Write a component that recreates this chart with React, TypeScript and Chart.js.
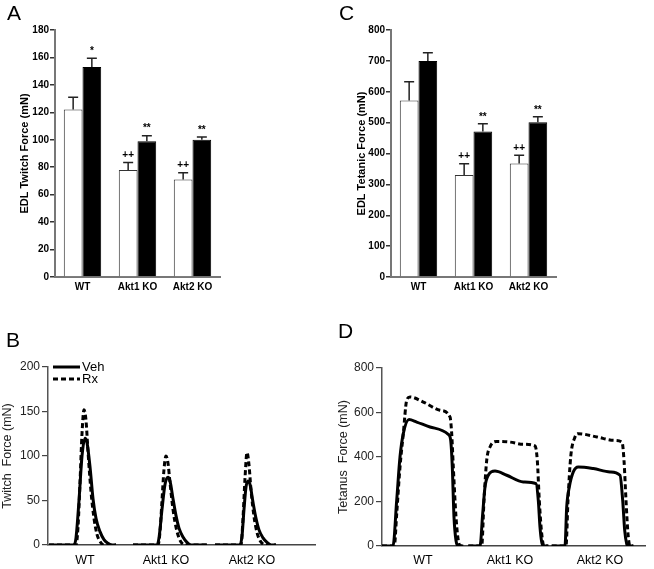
import React, { useEffect, useRef } from 'react';
import { Chart, registerables } from 'chart.js';

Chart.register(...registerables);

const FONT = '"Liberation Sans", Arial, Helvetica, sans-serif';

// ---------- Data ----------
const groups = ['WT', 'Akt1 KO', 'Akt2 KO'];

// Panel A: EDL twitch force (mN)
const twitchVeh = [122, 78, 71];
const twitchVehErr = [9, 5.5, 5];
const twitchRx = [153, 99, 100];
const twitchRxErr = [6.5, 4, 2];
const twitchVehMarks = ['', '++', '++'];
const twitchRxMarks = ['*', '**', '**'];

// Panel C: EDL tetanic force (mN)
const tetanicVeh = [572, 330, 368];
const tetanicVehErr = [60, 37, 26];
const tetanicRx = [700, 471, 501];
const tetanicRxErr = [26, 25, 18];
const tetanicVehMarks = ['', '++', '++'];
const tetanicRxMarks = ['', '**', '**'];

// Panel B: twitch traces [time, force]
const twitchWtVeh = [[1, 0], [26, 0], [28, 8], [31, 50], [34, 100], [37, 120], [39, 115], [42, 88], [45, 52], [48, 30], [52, 15], [56, 6], [60, 2], [64, 0], [68, 0]];
const twitchWtRx = [[1, 0], [28, 0], [30, 20], [32, 70], [34, 125], [36, 152], [38, 140], [40, 105], [43, 60], [46, 30], [49, 12], [52, 4], [56, 0], [68, 0]];
const twitchAkt1Veh = [[85, 0], [109, 0], [111, 8], [114, 40], [117, 68], [120, 76], [122, 72], [125, 52], [128, 33], [131, 19], [135, 9], [139, 3], [143, 0], [159, 0]];
const twitchAkt1Rx = [[85, 0], [110, 0], [112, 15], [114, 50], [116, 85], [118, 100], [120, 92], [122, 70], [125, 40], [128, 20], [131, 8], [134, 2], [138, 0], [159, 0]];
const twitchAkt2Veh = [[167, 0], [192, 0], [194, 10], [196, 40], [198, 65], [200, 72], [202, 68], [205, 48], [208, 30], [211, 17], [215, 8], [219, 3], [223, 0], [228, 0]];
const twitchAkt2Rx = [[167, 0], [193, 0], [195, 30], [197, 75], [199, 104], [201, 90], [203, 62], [206, 32], [209, 14], [212, 5], [215, 1], [219, 0], [228, 0]];
const twitchLabelTimes = [37, 118, 204];

// Panel D: tetanus traces [time, force]
const tetWtVeh = [[0, 0], [11, 0], [14.7, 205], [18, 400], [21.3, 505], [27, 568], [34.7, 557], [48, 535], [66.3, 502], [68.7, 475], [70.3, 355], [72, 130], [74, 25], [76.3, 0], [81.3, 0]];
const tetWtRx = [[0, 0], [12.3, 0], [14.7, 145], [18, 355], [21.3, 505], [24.7, 655], [28, 670], [41.3, 647], [58, 610], [68, 580], [69.7, 505], [71.3, 355], [74, 130], [76.3, 25], [78.7, 0], [81.3, 0]];
const tetAkt1Veh = [[86.3, 0], [98, 0], [100.7, 145], [103, 265], [106.3, 318], [113, 337], [124.7, 318], [141.3, 288], [154, 280], [156.3, 205], [158, 85], [159.7, 18], [161.3, 0], [166.3, 0]];
const tetAkt1Rx = [[86.3, 0], [99.7, 0], [102, 205], [104.7, 385], [108, 445], [114.7, 470], [128, 467], [141.3, 457], [153, 450], [155.3, 385], [157.3, 205], [159.7, 55], [162, 0], [166.3, 0]];
const tetAkt2Veh = [[169.7, 0], [183, 0], [184.7, 175], [187.3, 265], [191.3, 333], [196.3, 355], [211.3, 348], [228, 333], [238, 318], [240.7, 205], [242.7, 70], [244.7, 10], [246.3, 0], [251.3, 0]];
const tetAkt2Rx = [[169.7, 0], [184, 0], [186, 205], [188.7, 400], [193, 490], [196.3, 505], [215, 490], [231.7, 475], [240, 467], [242, 385], [244, 205], [246, 55], [248, 0], [251.3, 0]];
const tetanusLabelTimes = [41, 128, 218];

// ---------- Plugins ----------
const errorBarPlugin = {
  id: 'errorBars',
  afterDatasetsDraw(chart: any) {
    const ctx = chart.ctx;
    const yS = chart.scales.y;
    chart.data.datasets.forEach((ds: any, i: number) => {
      const meta = chart.getDatasetMeta(i);
      meta.data.forEach((bar: any, j: number) => {
        const top = yS.getPixelForValue(ds.data[j] + ds.errors[j]);
        ctx.save();
        ctx.strokeStyle = '#222';
        ctx.lineWidth = 1.5;
        ctx.beginPath();
        ctx.moveTo(bar.x, bar.y);
        ctx.lineTo(bar.x, top);
        ctx.moveTo(bar.x - 5, top);
        ctx.lineTo(bar.x + 5, top);
        ctx.stroke();
        const m = ds.marks[j];
        if (m) {
          ctx.font = `bold 10px ${FONT}`;
          ctx.fillStyle = '#000';
          ctx.textAlign = 'center';
          ctx.textBaseline = 'bottom';
          ctx.fillText(m, bar.x, top - 2);
        }
        ctx.restore();
      });
    });
  },
};

const lineLegendPlugin = {
  id: 'lineLegend',
  afterDraw(chart: any) {
    const { ctx, chartArea } = chart;
    const seen: string[] = [];
    const items: any[] = [];
    chart.data.datasets.forEach((ds: any) => {
      if (!seen.includes(ds.label)) {
        seen.push(ds.label);
        items.push(ds);
      }
    });
    items.forEach((ds, i) => {
      const y = chartArea.top + i * 12;
      ctx.save();
      ctx.strokeStyle = '#000';
      ctx.lineWidth = 3;
      ctx.setLineDash(ds.borderDash || []);
      ctx.beginPath();
      ctx.moveTo(chartArea.left + 5, y);
      ctx.lineTo(chartArea.left + 32, y);
      ctx.stroke();
      ctx.setLineDash([]);
      ctx.font = `13px ${FONT}`;
      ctx.fillStyle = '#000';
      ctx.textBaseline = 'middle';
      ctx.fillText(ds.label, chartArea.left + 34, y);
      ctx.restore();
    });
  },
};

// ---------- Chart builders ----------
function barChart(canvas: HTMLCanvasElement, p: any) {
  return new Chart(canvas as any, {
    type: 'bar',
    data: {
      labels: groups,
      datasets: [
        { label: 'Veh', data: p.veh, errors: p.vehErr, marks: p.vehMarks, backgroundColor: '#ffffff', borderColor: '#333', borderWidth: 1, categoryPercentage: 0.68, barPercentage: 1 } as any,
        { label: 'Rx', data: p.rx, errors: p.rxErr, marks: p.rxMarks, backgroundColor: '#000000', borderColor: '#000', borderWidth: 1, categoryPercentage: 0.68, barPercentage: 1 } as any,
      ],
    },
    options: {
      responsive: false,
      animation: false,
      devicePixelRatio: 1,
      layout: { padding: { left: 0, top: p.top, right: p.padRight, bottom: 0 } },
      plugins: { legend: { display: false }, tooltip: { enabled: false } },
      scales: {
        x: {
          grid: { display: false, drawTicks: false },
          border: { color: '#777', width: 2 },
          ticks: { font: { family: FONT, size: 10, weight: 'bold' }, color: '#000', padding: 4, maxRotation: 0 },
          afterFit: (s: any) => { s.height = p.xh; },
        },
        y: {
          min: 0,
          max: p.max,
          ticks: { stepSize: p.step, font: { family: FONT, size: 10, weight: 'bold' }, color: '#000', padding: 1 },
          grid: { drawOnChartArea: false, tickLength: 5, color: '#333', lineWidth: 1.5 },
          border: { color: '#777', width: 2 },
          title: { display: true, text: p.title, font: { family: FONT, size: 11, weight: 'bold' }, color: '#000', padding: { top: p.titlePad, bottom: 0 } },
          afterFit: (s: any) => { s.width = p.yw; },
        },
      },
    } as any,
    plugins: [errorBarPlugin],
  });
}

function traceChart(canvas: HTMLCanvasElement, p: any) {
  const mk = (arr: number[][], label: string) => ({
    label,
    data: arr.map(([x, y]) => ({ x, y })),
    borderColor: '#000',
    borderWidth: 3,
    borderDash: label === 'Rx' ? [5, 3] : [],
    pointRadius: 0,
    cubicInterpolationMode: 'monotone',
    fill: false,
  });
  return new Chart(canvas as any, {
    type: 'line',
    data: {
      datasets: [
        mk(p.traces[0], 'Veh'), mk(p.traces[2], 'Veh'), mk(p.traces[4], 'Veh'),
        mk(p.traces[1], 'Rx'), mk(p.traces[3], 'Rx'), mk(p.traces[5], 'Rx'),
      ] as any,
    },
    options: {
      responsive: false,
      animation: false,
      devicePixelRatio: 1,
      layout: { padding: { left: 0, top: p.top, right: p.padRight, bottom: 0 } },
      plugins: { legend: { display: false }, tooltip: { enabled: false } },
      scales: {
        x: {
          type: 'linear',
          min: 0,
          max: p.xmax,
          grid: { display: false, drawTicks: false },
          border: { color: '#444', width: 1.5 },
          afterBuildTicks: (s: any) => { s.ticks = p.labelTimes.map((v: number) => ({ value: v })); },
          ticks: {
            autoSkip: false,
            maxRotation: 0,
            callback: (_v: any, i: number) => groups[i],
            font: { family: FONT, size: 12.5 },
            color: '#000',
            padding: p.xpad,
          },
          afterFit: (s: any) => { s.height = p.xh; },
        },
        y: {
          min: 0,
          max: p.ymax,
          ticks: { stepSize: p.ystep, font: { family: FONT, size: 12 }, color: '#222', padding: 2 },
          grid: { drawOnChartArea: false, tickLength: 6, color: '#444', lineWidth: 1.2 },
          border: { color: '#555', width: 1.5 },
          title: { display: true, text: p.title, font: { family: FONT, size: 12.5 }, color: '#222', padding: { top: p.titlePad, bottom: 0 } },
          afterFit: (s: any) => { s.width = p.yw; },
        },
      },
    } as any,
    plugins: p.legend ? [lineLegendPlugin] : [],
  });
}

function Panel({ left, top, width, height, build }: any) {
  const ref = useRef<HTMLCanvasElement>(null);
  useEffect(() => {
    const chart = build(ref.current);
    return () => chart.destroy();
  }, []);
  return (
    <canvas
      ref={ref}
      width={width}
      height={height}
      style={{ position: 'absolute', left, top, width, height }}
    />
  );
}

const letterStyle = (left: number, top: number): React.CSSProperties => ({
  position: 'absolute',
  left,
  top,
  fontFamily: FONT,
  fontSize: 21,
  lineHeight: '21px',
  color: '#000',
});

export default function App() {
  return (
    <div style={{ position: 'absolute', left: 0, top: 0, width: 654, height: 569, background: '#fff', overflow: 'hidden' }}>
      <Panel
        left={0}
        top={0}
        width={327}
        height={300}
        build={(c: HTMLCanvasElement) =>
          barChart(c, {
            veh: twitchVeh, vehErr: twitchVehErr, vehMarks: twitchVehMarks,
            rx: twitchRx, rxErr: twitchRxErr, rxMarks: twitchRxMarks,
            max: 180, step: 20, title: 'EDL Twitch Force (mN)',
            top: 30, padRight: 107, xh: 23, yw: 55, titlePad: 18,
          })
        }
      />
      <Panel
        left={327}
        top={0}
        width={327}
        height={300}
        build={(c: HTMLCanvasElement) =>
          barChart(c, {
            veh: tetanicVeh, vehErr: tetanicVehErr, vehMarks: tetanicVehMarks,
            rx: tetanicRx, rxErr: tetanicRxErr, rxMarks: tetanicRxMarks,
            max: 800, step: 100, title: 'EDL Tetanic Force (mN)',
            top: 30, padRight: 98, xh: 23, yw: 64, titlePad: 28,
          })
        }
      />
      <Panel
        left={0}
        top={300}
        width={327}
        height={269}
        build={(c: HTMLCanvasElement) =>
          traceChart(c, {
            traces: [twitchWtVeh, twitchWtRx, twitchAkt1Veh, twitchAkt1Rx, twitchAkt2Veh, twitchAkt2Rx],
            labelTimes: twitchLabelTimes,
            xmax: 267, ymax: 200, ystep: 50, title: 'Twitch  Force (mN)',
            top: 67, padRight: 12, xh: 24, yw: 48, titlePad: 0, xpad: 8, legend: true,
          })
        }
      />
      <Panel
        left={327}
        top={300}
        width={327}
        height={269}
        build={(c: HTMLCanvasElement) =>
          traceChart(c, {
            traces: [tetWtVeh, tetWtRx, tetAkt1Veh, tetAkt1Rx, tetAkt2Veh, tetAkt2Rx],
            labelTimes: tetanusLabelTimes,
            xmax: 263, ymax: 800, ystep: 200, title: 'Tetanus  Force (mN)',
            top: 68, padRight: 9, xh: 23, yw: 55, titlePad: 9, xpad: 7, legend: false,
          })
        }
      />
      <div style={letterStyle(7, 2)}>A</div>
      <div style={letterStyle(339, 2)}>C</div>
      <div style={letterStyle(6, 329)}>B</div>
      <div style={letterStyle(338, 320)}>D</div>
    </div>
  );
}
